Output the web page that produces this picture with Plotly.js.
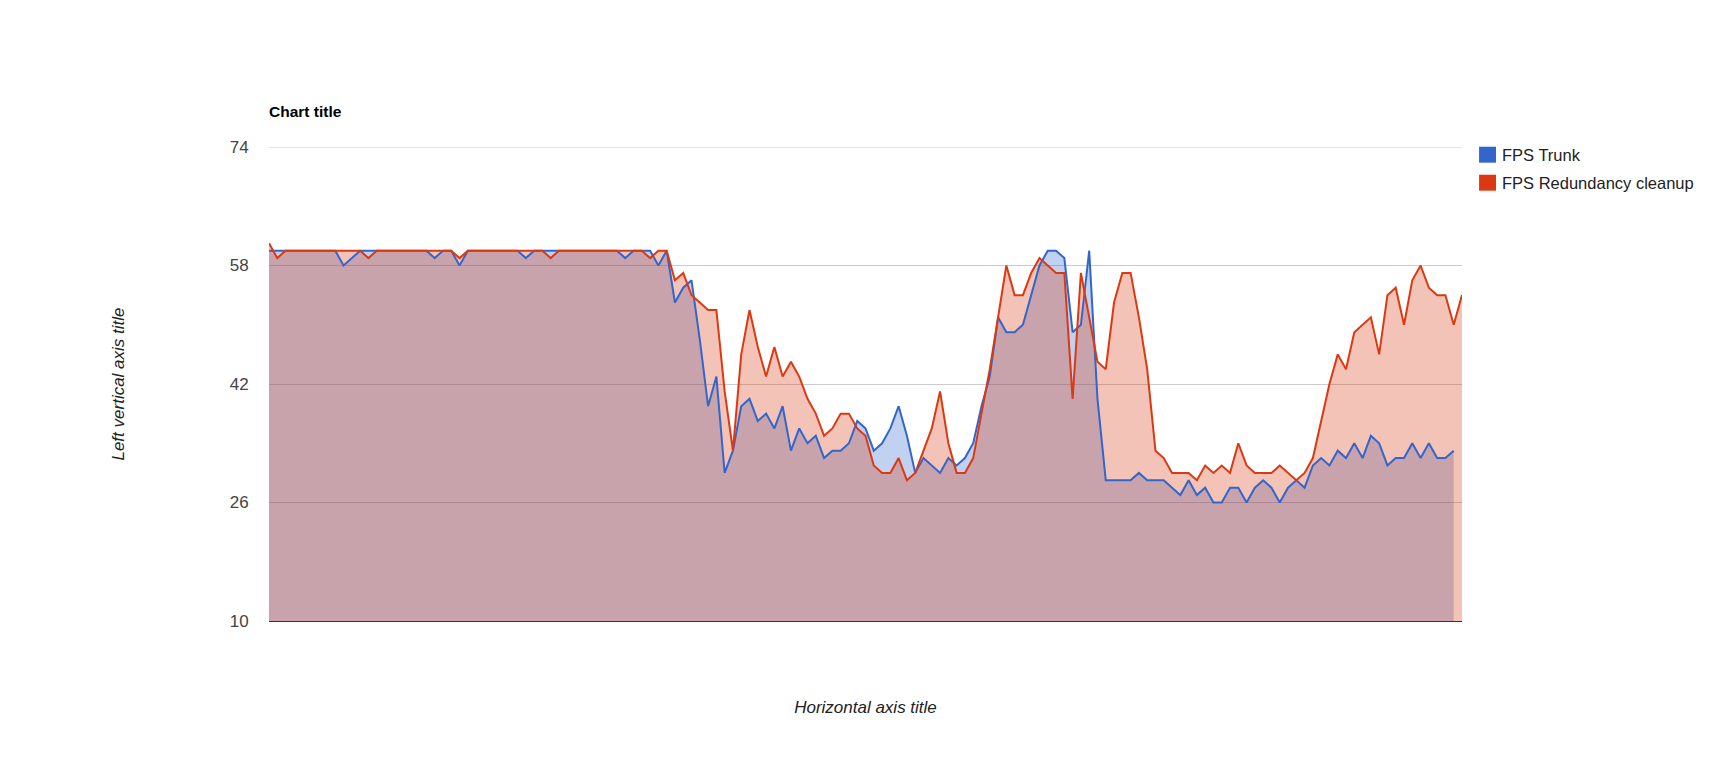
<!DOCTYPE html>
<html>
<head>
<meta charset="utf-8">
<script src="https://cdn.plot.ly/plotly-3.0.1.min.js"></script>
<style>
  html, body { margin: 0; padding: 0; background: #fff; }
  #chart { width: 1730px; height: 768px; }
</style>
</head>
<body>
<div id="chart"></div>
<script>
// values, one per sample
const seriesNames = ['FPS Trunk', 'FPS Redundancy cleanup'];
const fpsTrunk = [
  60,60,60,60,60,60,60,60,60,58,
  59,60,60,60,60,60,60,60,60,60,
  59,60,60,58,60,60,60,60,60,60,
  60,59,60,60,60,60,60,60,60,60,
  60,60,60,59,60,60,60,58,60,53,
  55,56,48,39,43,30,33,39,40,37,
  38,36,39,33,36,34,35,32,33,33,
  34,37,36,33,34,36,39,35,30,32,
  31,30,32,31,32,34,39,43,51,49,
  49,50,54,58,60,60,59,49,50,60,
  40,29,29,29,29,30,29,29,29,28,
  27,29,27,28,26,26,28,28,26,28,
  29,28,26,28,29,28,31,32,31,33,
  32,34,32,35,34,31,32,32,34,32,
  34,32,32,33
];
const fpsCleanup = [
  61,59,60,60,60,60,60,60,60,60,
  60,60,59,60,60,60,60,60,60,60,
  60,60,60,59,60,60,60,60,60,60,
  60,60,60,60,59,60,60,60,60,60,
  60,60,60,60,60,60,59,60,60,56,
  57,54,53,52,52,41,33,46,52,47,
  43,47,43,45,43,40,38,35,36,38,
  38,36,35,31,30,30,32,29,30,33,
  36,41,34,30,30,32,38,44,51,58,
  54,54,57,59,58,57,57,40,57,51,
  45,44,53,57,57,51,44,33,32,30,
  30,30,29,31,30,31,30,34,31,30,
  30,30,31,30,29,30,32,37,42,46,
  44,49,50,51,46,54,55,50,56,58,
  55,54,54,50,54
];
const yTicks = [10, 26, 42, 58, 74];

const colors = ['#3366cc', '#dc3912'];
const fills = ['rgba(51,102,204,0.3)', 'rgba(220,57,18,0.3)'];
const series = [fpsTrunk, fpsCleanup];
const FONT = 'Liberation Sans, Arial';

// fills first, then the lines on top of both areas
const areaTraces = series.map((vals, k) => ({
    x: vals.map((v, i) => i),
    y: vals,
    type: 'scatter',
    mode: 'none',
    fill: 'tozeroy',
    fillcolor: fills[k],
    hoverinfo: 'skip'
}));
const lineTraces = series.map((vals, k) => ({
    x: vals.map((v, i) => i),
    y: vals,
    type: 'scatter',
    mode: 'lines',
    name: seriesNames[k],
    line: { color: colors[k], width: 2 },
    hoverinfo: 'skip'
}));

// legend drawn as squares + labels, like the original
const legendShapes = [];
const legendNotes = [];
seriesNames.forEach((name, k) => {
    const top = 1.0006 - k * 0.0591;
    legendShapes.push({
        type: 'rect', xref: 'paper', yref: 'paper',
        x0: 1.0143, x1: 1.0285, y0: top - 0.0337, y1: top,
        fillcolor: colors[k], line: { width: 0 }
    });
    legendNotes.push({
        xref: 'paper', yref: 'paper', x: 1.0318, y: top - 0.0168,
        xanchor: 'left', yanchor: 'middle', showarrow: false,
        text: name, font: { family: FONT, size: 16.5, color: '#222' }
    });
});

// top gridline sits on the plot edge, plotly skips it
legendShapes.push({
    type: 'line', xref: 'paper', yref: 'y', layer: 'below',
    x0: 0, x1: 1, y0: yTicks[yTicks.length - 1], y1: yTicks[yTicks.length - 1],
    line: { color: '#ccc', width: 1 }
});

const layout = {
    width: 1730, height: 768,
    margin: { l: 269, r: 268, t: 147, b: 147 },
    paper_bgcolor: '#fff', plot_bgcolor: '#fff',
    font: { family: FONT, size: 16, color: '#444' },
    showlegend: false,
    hovermode: false,
    title: {
        text: '<b>Chart title</b>',
        xref: 'paper', x: 0, xanchor: 'left',
        yref: 'container', y: 1 - 112 / 768, yanchor: 'middle',
        font: { family: FONT, size: 15.5, color: '#000' }
    },
    xaxis: {
        range: [0, 144],
        showgrid: false, zeroline: false,
        showticklabels: false, ticks: '',
        showline: true, linecolor: '#333', linewidth: 1,
        title: {
            text: 'Horizontal axis title', standoff: 80,
            font: { family: FONT, size: 17, color: '#222', style: 'italic' }
        }
    },
    yaxis: {
        range: [10, 74],
        tickvals: yTicks,
        ticktext: yTicks.map(String),
        ticks: 'outside', ticklen: 16, tickcolor: 'rgba(0,0,0,0)',
        showgrid: true, gridcolor: '#ccc', gridwidth: 1,
        zeroline: false, showline: false,
        tickfont: { size: 17, color: '#444' },
        title: {
            text: 'Left vertical axis title', standoff: 100,
            font: { family: FONT, size: 17, color: '#222', style: 'italic' }
        }
    },
    shapes: legendShapes,
    annotations: legendNotes
};

Plotly.newPlot('chart', areaTraces.concat(lineTraces), layout, { displayModeBar: false, staticPlot: true });
</script>
</body>
</html>
